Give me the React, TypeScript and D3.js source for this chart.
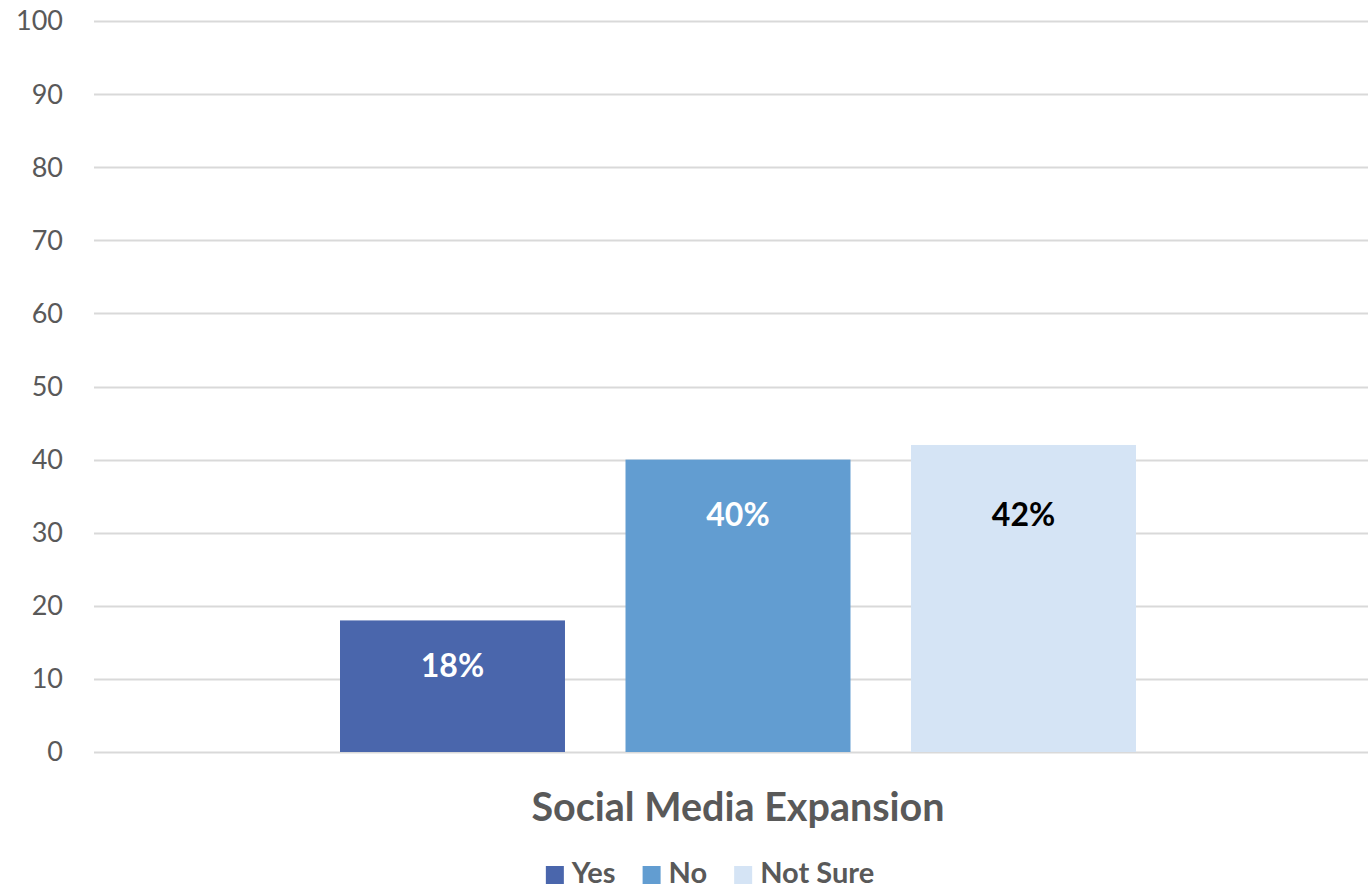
import React, { useEffect, useRef } from "react";
import * as d3 from "d3";

const categories = ["Social Media Expansion"];
const series = ["Yes", "No", "Not Sure"];
const values = [18, 40, 42];
const colors = ["#4a66ac", "#629dd1", "#d5e4f5"];
const labelColors = ["#ffffff", "#ffffff", "#000000"];
const yTicks = [0, 10, 20, 30, 40, 50, 60, 70, 80, 90, 100];

const W = 1368;
const H = 888;
const FONT = "Lato, 'Open Sans', sans-serif";

export default function App() {
  const ref = useRef<SVGSVGElement | null>(null);

  useEffect(() => {
    const svg = d3.select(ref.current);
    svg.selectAll("*").remove();

    const plotLeft = 94;
    const plotRight = 1382;
    const y = d3.scaleLinear().domain([0, 100]).range([752, 21]);

    const x0 = d3
      .scaleBand<string>()
      .domain(categories)
      .range([plotLeft, plotRight])
      .paddingOuter(0.191)
      .paddingInner(0);
    const groupW = 796;
    const gx = (x0(categories[0]) as number) + (x0.bandwidth() - groupW) / 2;
    const x1 = d3
      .scaleBand<string>()
      .domain(series)
      .range([gx, gx + groupW])
      .paddingInner(0.212)
      .paddingOuter(0);

    // gridlines
    svg
      .append("g")
      .selectAll("line")
      .data(yTicks)
      .join("line")
      .attr("x1", plotLeft)
      .attr("x2", W)
      .attr("y1", (d) => Math.round(y(d)) + 0.5)
      .attr("y2", (d) => Math.round(y(d)) + 0.5)
      .attr("stroke", "#d9d9d9")
      .attr("stroke-width", 2);

    // tick labels
    svg
      .append("g")
      .selectAll("text")
      .data(yTicks)
      .join("text")
      .attr("x", 63)
      .attr("y", (d) => y(d))
      .attr("dy", "0.35em")
      .attr("text-anchor", "end")
      .attr("font-family", FONT)
      .attr("font-size", 27)
      .attr("fill", "#595959")
      .text((d) => String(d));

    // bars
    const data = series.map((s, i) => ({ s, v: values[i], c: colors[i], lc: labelColors[i] }));
    svg
      .append("g")
      .selectAll("rect")
      .data(data)
      .join("rect")
      .attr("x", (d) => x1(d.s) as number)
      .attr("width", x1.bandwidth())
      .attr("y", (d) => y(d.v))
      .attr("height", (d) => y(0) - y(d.v))
      .attr("fill", (d) => d.c);

    // data labels
    svg
      .append("g")
      .selectAll("text")
      .data(data)
      .join("text")
      .attr("x", (d) => (x1(d.s) as number) + x1.bandwidth() / 2)
      .attr("y", (d) => Math.max(y(d.v) + 45, y(32.4)))
      .attr("dy", "0.35em")
      .attr("text-anchor", "middle")
      .attr("font-family", FONT)
      .attr("font-weight", 700)
      .attr("font-size", 32)
      .attr("fill", (d) => d.lc)
      .text((d) => `${d.v}%`);

    // category label
    svg
      .append("text")
      .attr("x", (x0(categories[0]) as number) + x0.bandwidth() / 2)
      .attr("y", 807)
      .attr("dy", "0.35em")
      .attr("text-anchor", "middle")
      .attr("font-family", FONT)
      .attr("font-weight", 700)
      .attr("font-size", 39.5)
      .attr("fill", "#595959")
      .text(categories[0]);

    // legend
    const lg = svg.append("g");
    const items = lg
      .selectAll("g")
      .data(data)
      .join("g");
    items
      .append("rect")
      .attr("width", 18)
      .attr("height", 18)
      .attr("y", 866)
      .attr("fill", (d) => d.c);
    items
      .append("text")
      .attr("x", 26)
      .attr("y", 873)
      .attr("dy", "0.35em")
      .attr("font-family", FONT)
      .attr("font-weight", 700)
      .attr("font-size", 29)
      .attr("fill", "#595959")
      .text((d) => d.s);
    const widths: number[] = [];
    items.each(function () {
      const t = d3.select(this).select("text").node() as SVGTextElement;
      widths.push(26 + t.getComputedTextLength());
    });
    const gap = 27;
    const total = d3.sum(widths) + gap * (widths.length - 1);
    let cx = 710 - total / 2;
    items.attr("transform", (_d, i) => {
      const tx = cx;
      cx += widths[i] + gap;
      return `translate(${tx},0)`;
    });
  }, []);

  return (
    <svg
      ref={ref}
      width={W}
      height={H}
      style={{ position: "absolute", left: 0, top: 0, background: "#fff" }}
    />
  );
}
